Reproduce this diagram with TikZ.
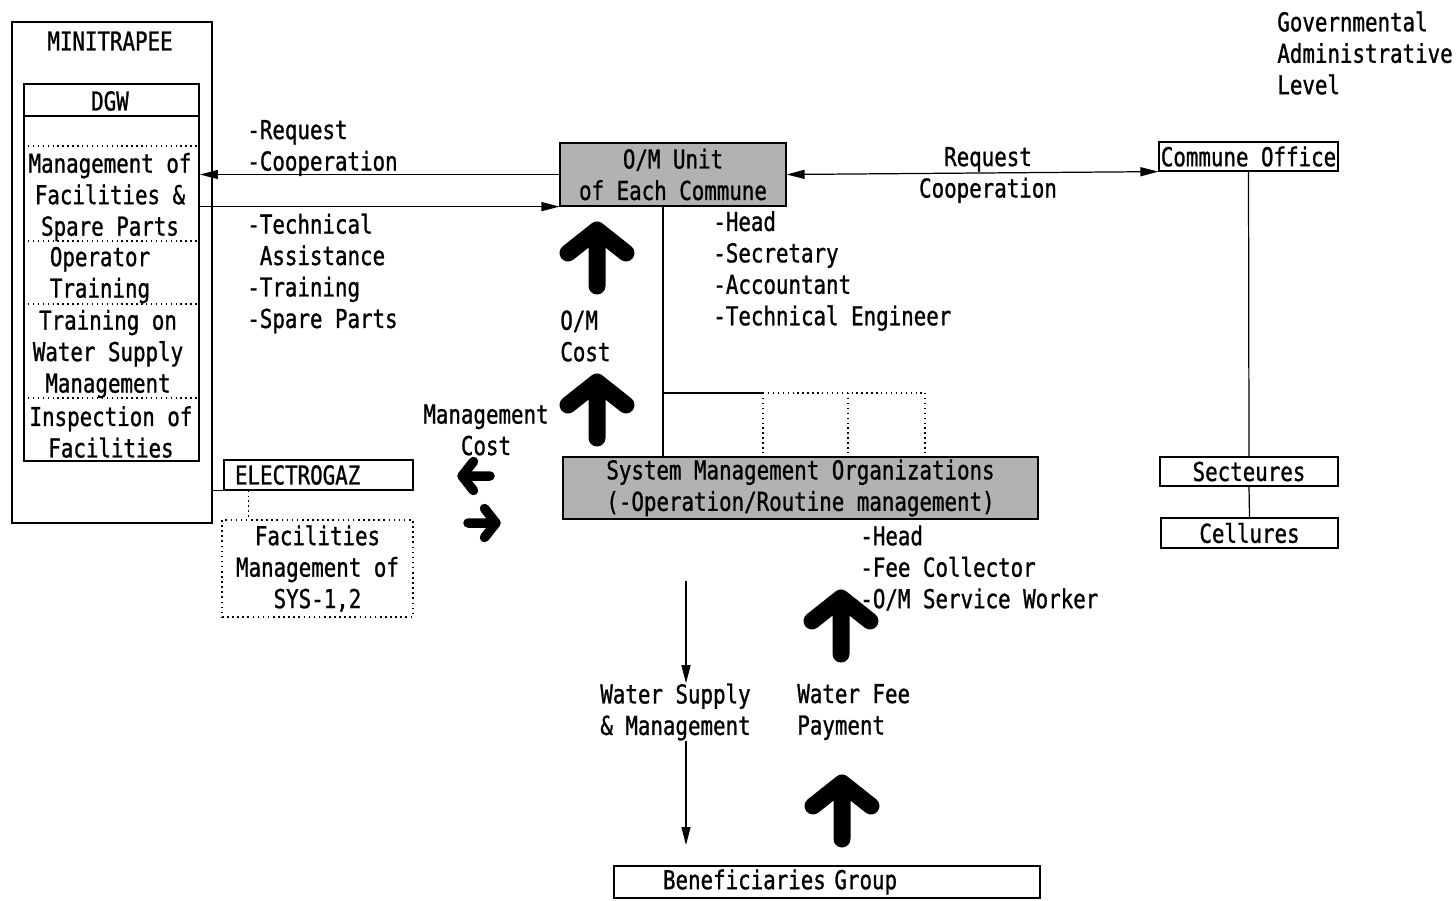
\documentclass[tikz,border=0pt]{standalone}
\usepackage{fontspec}
\setmainfont{DejaVu Sans Mono}[FakeStretch=0.8, FakeBold=1]
\usepackage{tikz}
\usetikzlibrary{positioning, arrows.meta}

\begin{document}
\begin{tikzpicture}[
      x=0.02cm, y=-0.02cm,
      >={Triangle[length=0.36cm, width=0.18cm]},
      every node/.style={inner sep=0pt, font=\fontsize{14.8}{17.9}\selectfont},
      box/.style={draw, line width=0.7pt},
      heavybox/.style={draw, line width=1.1pt},
      shaded/.style={box, fill=black!30},
      dotbox/.style={draw, dotted, line width=0.9pt},
      divider/.style={dotted, line width=0.8pt},
      link/.style={line width=0.7pt},
      fat/.style={line width=0.34cm, line cap=round, line join=round},
      pics/fatup/.style={code={
        \draw[fat] (-29,23) -- (0,0) -- (29,23) (0,0) -- (0,56);}},
    ]
    \useasboundingbox (0,0) rectangle (1456,900);

    % ministry and DGW
    \node[heavybox, minimum width=4cm, minimum height=10.02cm] (minitrapee) at (112,272.5) {};
    \node (minititle) at (110,41) {MINITRAPEE};
    \node[heavybox, minimum width=3.5cm, minimum height=7.54cm] (dgw) at (111.5,272.5) {};
    \node (dgwtitle) at (110,101) {DGW};
    \draw[link] (dgw.west |- 0,116) -- (dgw.east |- 0,116);
    \foreach \y in {146,241,304,398}
      \draw[divider] (dgw.west |- 0,\y) -- (dgw.east |- 0,\y);
    \node[align=center] (dgwfac) at (110,197) {Management of\\Facilities \&\\Spare Parts};
    \node[align=center] (dgwop) at (100,275) {Operator\\Training};
    \node[align=center] (dgwws) at (108,354) {Training on\\Water Supply\\Management};
    \node[align=center] (dgwins) at (111,432) {Inspection of\\Facilities};

    \node[align=left, anchor=west] (reqcoop) at (247,148) {-Request\\-Cooperation};
    \node[align=left, anchor=west] (support) at (247,273.5)
      {-Technical\\\hphantom{-}Assistance\\-Training\\-Spare Parts};

    \node[box, minimum height=0.6cm, text width=3.34cm, inner xsep=0.22cm, align=left]
      (electrogaz) at (318.5,475) {ELECTROGAZ};
    \node[dotbox, minimum width=3.82cm, minimum height=1.94cm, align=center]
      (facilities) at (317.5,568.5) {Facilities\\Management of\\SYS-1,2};

    % commune level
    \node[shaded, minimum width=4.52cm, minimum height=1.26cm, align=center]
      (omunit) at (673,174.5) {O/M Unit\\of Each Commune};
    \node[align=left, anchor=west] (omstaff) at (713,271)
      {-Head\\-Secretary\\-Accountant\\-Technical Engineer};
    \node[align=left, anchor=west] (omcost) at (560,336) {O/M\\Cost};
    \node[align=center] (mgmtcost) at (486,430) {Management\\Cost};

    \node[align=center] (reqcoop2) at (988,175) {Request\\Cooperation};
    \node[align=left, anchor=west] (govlevel) at (1277,53) {Governmental\\Administrative\\Level};
    \node[box, minimum width=3.58cm, minimum height=0.58cm] (commune) at (1248.5,156.5) {Commune Office};
    \node[box, minimum width=3.56cm, minimum height=0.58cm] (secteures) at (1249,471.5) {Secteures};
    \node[box, minimum width=3.54cm, minimum height=0.6cm] (cellures) at (1249.5,533) {Cellures};

    % systems and users
    \node[shaded, minimum width=9.5cm, minimum height=1.24cm, align=center]
      (smo) at (800.5,488) {System Management Organizations\\(-Operation/Routine management)};
    \node[align=left, anchor=west] (smostaff) at (860,568)
      {-Head\\-Fee Collector\\-O/M Service Worker};
    \node[align=left, anchor=west] (watersupply) at (600,712) {Water Supply\\\& Management};
    \node[align=left, anchor=west] (waterfee) at (797,712) {Water Fee\\Payment};
    \node[box, minimum height=0.64cm, text width=6.56cm, inner xsep=0.98cm, align=left]
      (beneficiaries) at (827,882) {Beneficiaries Group};

    \coordinate (branch) at (663,393);
    \coordinate (mid1) at (763,393);
    \coordinate (mid2) at (848,393);
    \coordinate (mid3) at (925,393);
    \coordinate (supplytop) at (686,581);
    \coordinate (supplybottom) at (686,845);

    \draw[link, ->] (omunit.west) -- (omunit.west -| dgw.east);
    \draw[link, ->] (omunit.south west -| dgw.east) -- (omunit.south west);
    \draw[link, <->] (omunit.east) -- (commune.south west);
    \draw[link] (commune.south) -- (secteures.north);
    \draw[link] (secteures.south) -- (cellures.north);
    \draw[link] (branch |- omunit.south) -- (branch |- smo.north);
    \draw[link] (branch) -- (mid1);
    \draw[divider] (mid1) -- (mid3);
    \foreach \m in {mid1, mid2, mid3}
      \draw[divider] (\m) -- (\m |- smo.north);
    \draw[link] (electrogaz.south west -| minitrapee.east) -- (electrogaz.south west);
    \draw[divider] ([xshift=0.5cm]electrogaz.south west)
      -- ([xshift=0.5cm]electrogaz.south west |- facilities.north);
    \draw[link, ->] (supplytop) -- (supplytop |- watersupply.north);
    \draw[link, ->] (supplybottom |- watersupply.south) -- (supplybottom);

    \pic at (597,230) {fatup};
    \pic at (597,382) {fatup};
    \pic at (841,598) {fatup};
    \pic at (842,783) {fatup};
    \pic[rotate=90, scale=0.5, fat/.append style={line width=0.19cm}] at (462,476) {fatup};
    \pic[rotate=-90, scale=0.5, fat/.append style={line width=0.19cm}] at (496,523) {fatup};

  \end{tikzpicture}
\end{document}
